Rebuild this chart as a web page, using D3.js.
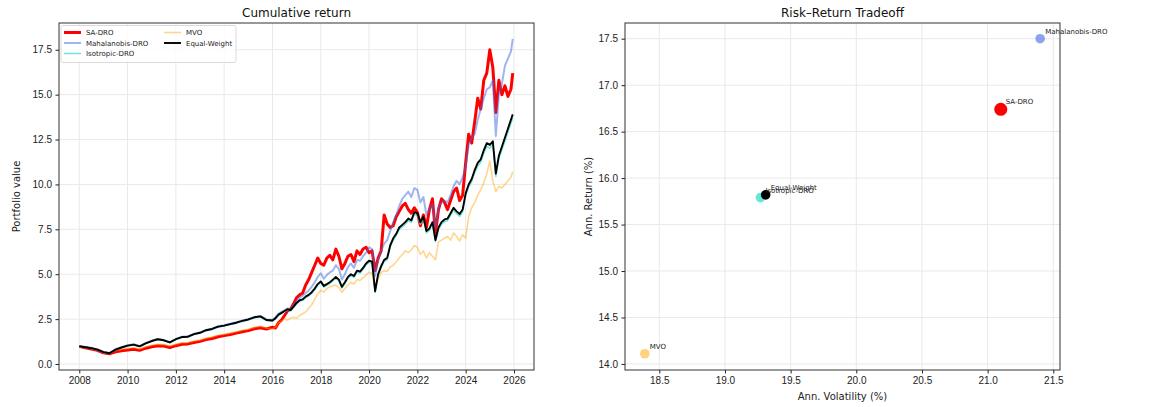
<!DOCTYPE html>
<meta charset="utf-8">
<style>
body { margin: 0; background: #fff; }
svg { font-family: 'DejaVu Sans', sans-serif; }
.grid line { stroke: #e9e9e9; stroke-width: 1; }
.axis text { font-size: 10px; fill: #222; }
.axis line { stroke: #222; }
.axis path { display: none; }
.frame { fill: none; stroke: #333; stroke-width: 1; }
.title { font-size: 12px; fill: #111; text-anchor: middle; }
.label { font-size: 10px; fill: #222; text-anchor: middle; }
.legend text, .pt-label { font-size: 7px; fill: #222; }
</style>
<body>
<svg id="chart" width="1152" height="407"></svg>
<script src="https://d3js.org/d3.v7.min.js"></script>
<script>
// decimal years: quarterly to 2016, then every 1.5 months
const dates = [
  2008, 2008.25, 2008.5, 2008.75,
  2009, 2009.25, 2009.5, 2009.75,
  2010, 2010.25, 2010.5, 2010.75,
  2011, 2011.25, 2011.5, 2011.75,
  2012, 2012.25, 2012.5, 2012.75,
  2013, 2013.25, 2013.5, 2013.75,
  2014, 2014.25, 2014.5, 2014.75,
  2015, 2015.25, 2015.5, 2015.75,
  2016,
  2016.125, 2016.25, 2016.375, 2016.5, 2016.625, 2016.75, 2016.875, 2017,
  2017.125, 2017.25, 2017.375, 2017.5, 2017.625, 2017.75, 2017.875, 2018,
  2018.125, 2018.25, 2018.375, 2018.5, 2018.625, 2018.75, 2018.875, 2019,
  2019.125, 2019.25, 2019.375, 2019.5, 2019.625, 2019.75, 2019.875, 2020,
  2020.125, 2020.25, 2020.375, 2020.5, 2020.625, 2020.75, 2020.875, 2021,
  2021.125, 2021.25, 2021.375, 2021.5, 2021.625, 2021.75, 2021.875, 2022,
  2022.125, 2022.25, 2022.375, 2022.5, 2022.625, 2022.75, 2022.875, 2023,
  2023.125, 2023.25, 2023.375, 2023.5, 2023.625, 2023.75, 2023.875, 2024,
  2024.125, 2024.25, 2024.375, 2024.5, 2024.625, 2024.75, 2024.875, 2025,
  2025.125, 2025.25, 2025.375, 2025.5, 2025.625, 2025.75, 2025.875, 2025.95
];

const saDro = [
  0.98, 0.90, 0.84, 0.76,
  0.62, 0.57, 0.68, 0.74,
  0.78, 0.82, 0.76, 0.88,
  0.96, 1.02, 1.00, 0.92,
  1.02, 1.10, 1.12, 1.20,
  1.26, 1.36, 1.42, 1.52,
  1.58, 1.64, 1.72, 1.80,
  1.86, 1.96, 2.02, 1.95,
  2.05,
  2.00, 2.30, 2.45, 2.70, 2.95, 3.05, 3.35, 3.70,
  3.85, 3.95, 4.40, 4.70, 5.10, 5.50, 5.90, 5.60,
  5.50, 5.90, 6.05, 5.80, 6.40, 6.00, 5.30, 5.60,
  6.00, 6.10, 5.70, 6.30, 6.10, 6.40, 6.50, 6.20,
  6.30, 5.20, 5.90, 6.30, 8.30, 7.80, 7.60, 7.70,
  8.20, 8.50, 8.80, 8.95, 8.60, 8.40, 8.70, 8.45,
  7.70, 8.30, 7.60, 8.60, 9.20, 7.30, 8.60, 9.20,
  9.00, 8.60, 9.10, 9.60, 9.80, 9.10, 9.40, 11.20,
  12.80, 12.30, 13.50, 14.80, 14.20, 15.80, 16.20, 17.50,
  16.50, 14.00, 15.80, 15.00, 15.50, 14.90, 15.30, 16.20
];

const mahalanobisDro = [
  1.00, 0.95, 0.90, 0.82,
  0.68, 0.62, 0.82, 0.94,
  1.04, 1.10, 1.00, 1.17,
  1.30, 1.40, 1.34, 1.22,
  1.40, 1.52, 1.54, 1.68,
  1.76, 1.90, 1.97, 2.10,
  2.16, 2.24, 2.32, 2.42,
  2.50, 2.62, 2.68, 2.48,
  2.46,
  2.60, 2.80, 2.90, 3.00, 3.10, 3.05, 3.30, 3.50,
  3.70, 3.80, 3.95, 4.10, 4.30, 4.55, 4.85, 5.05,
  4.75, 4.95, 5.10, 5.20, 5.50, 5.30, 4.70, 5.00,
  5.40, 5.60, 5.35, 5.80, 5.75, 6.00, 6.20, 6.50,
  6.40, 4.90, 5.80, 6.30, 6.70, 6.90, 7.40, 7.90,
  8.30, 8.80, 9.20, 9.40, 9.60, 9.30, 9.80, 9.70,
  9.00, 9.30, 8.30, 8.60, 8.90, 7.60, 8.70, 9.00,
  9.10, 9.00, 9.40, 9.90, 10.20, 10.00, 10.40, 11.00,
  12.20, 12.60, 12.80, 13.60, 14.20, 14.80, 15.30, 15.40,
  15.80, 12.70, 15.00, 15.60, 16.60, 17.00, 17.40, 18.10
];

const isotropicDro = [
  0.96, 0.91, 0.86, 0.78,
  0.64, 0.58, 0.78, 0.90,
  1.00, 1.06, 0.96, 1.13,
  1.26, 1.36, 1.30, 1.18,
  1.36, 1.48, 1.50, 1.64,
  1.72, 1.85, 1.92, 2.05,
  2.11, 2.19, 2.27, 2.37,
  2.45, 2.57, 2.62, 2.42,
  2.39,
  2.51, 2.71, 2.81, 2.91, 3.00, 2.95, 3.15, 3.35,
  3.49, 3.54, 3.69, 3.79, 3.93, 4.13, 4.38, 4.53,
  4.28, 4.38, 4.48, 4.62, 4.77, 4.62, 4.22, 4.47,
  4.77, 4.92, 4.82, 5.11, 5.06, 5.26, 5.51, 5.66,
  5.61, 3.98, 4.91, 5.36, 5.70, 5.80, 6.50, 6.89,
  7.14, 7.49, 7.63, 7.78, 7.98, 7.88, 8.32, 8.27,
  7.78, 8.08, 7.29, 7.44, 7.78, 6.80, 7.49, 7.78,
  7.93, 7.98, 8.27, 8.57, 8.37, 8.22, 8.47, 9.36,
  9.85, 10.15, 10.64, 11.03, 11.23, 11.72, 12.12, 12.02,
  12.22, 10.44, 11.43, 11.92, 12.41, 12.90, 13.40, 13.70
];

const mvo = [
  0.97, 0.91, 0.86, 0.79,
  0.66, 0.62, 0.75, 0.82,
  0.87, 0.92, 0.84, 0.96,
  1.04, 1.10, 1.08, 1.00,
  1.10, 1.18, 1.20, 1.28,
  1.34, 1.44, 1.50, 1.60,
  1.66, 1.72, 1.80, 1.88,
  1.94, 2.04, 2.10, 2.00,
  1.95,
  2.05, 2.30, 2.40, 2.50, 2.45, 2.55, 2.60, 2.55,
  2.70, 2.80, 2.90, 3.10, 3.30, 3.60, 3.90, 4.10,
  4.00, 4.20, 4.30, 4.35, 4.40, 4.25, 4.00, 4.20,
  4.40, 4.55, 4.45, 4.70, 4.65, 4.80, 4.95, 5.10,
  5.05, 4.20, 4.75, 5.10, 5.20, 5.15, 5.40, 5.50,
  5.70, 5.90, 6.10, 6.30, 6.20, 6.35, 6.60, 6.50,
  6.10, 6.30, 5.90, 6.20, 6.00, 5.80, 6.80, 6.90,
  7.00, 7.10, 6.90, 7.30, 7.10, 6.85, 7.20, 7.00,
  8.20, 8.70, 9.00, 9.40, 9.70, 10.10, 10.60, 11.30,
  10.20, 9.60, 9.90, 9.80, 10.00, 10.20, 10.40, 10.70
];

const equalWeight = [
  0.98, 0.93, 0.88, 0.80,
  0.66, 0.60, 0.80, 0.92,
  1.02, 1.08, 0.98, 1.15,
  1.28, 1.38, 1.32, 1.20,
  1.38, 1.50, 1.52, 1.66,
  1.74, 1.88, 1.95, 2.08,
  2.14, 2.22, 2.30, 2.40,
  2.48, 2.60, 2.65, 2.45,
  2.42,
  2.55, 2.75, 2.85, 2.95, 3.05, 3.00, 3.20, 3.40,
  3.55, 3.60, 3.75, 3.85, 4.00, 4.20, 4.45, 4.60,
  4.35, 4.45, 4.55, 4.70, 4.85, 4.70, 4.30, 4.55,
  4.85, 5.00, 4.90, 5.20, 5.15, 5.35, 5.60, 5.75,
  5.70, 4.05, 5.00, 5.45, 5.80, 5.90, 6.60, 7.00,
  7.25, 7.60, 7.75, 7.90, 8.10, 8.00, 8.45, 8.40,
  7.90, 8.20, 7.40, 7.55, 7.90, 6.90, 7.60, 7.90,
  8.05, 8.10, 8.40, 8.70, 8.50, 8.35, 8.60, 9.50,
  10.00, 10.30, 10.80, 11.20, 11.40, 11.90, 12.30, 12.20,
  12.40, 10.60, 11.60, 12.10, 12.60, 13.10, 13.60, 13.90
];

const names = ["SA-DRO", "Mahalanobis-DRO", "Isotropic-DRO", "MVO", "Equal-Weight"];
const annVol = [21.10, 21.40, 19.27, 18.39, 19.31];
const annRet = [16.74, 17.50, 15.79, 14.11, 15.82];

const yearTicks = [2008, 2010, 2012, 2014, 2016, 2018, 2020, 2022, 2024, 2026];
const valueTicks = [0, 2.5, 5, 7.5, 10, 12.5, 15, 17.5];
const volTicks = [18.5, 19.0, 19.5, 20.0, 20.5, 21.0, 21.5];
const retTicks = [14.0, 14.5, 15.0, 15.5, 16.0, 16.5, 17.0, 17.5];

const series = [saDro, mahalanobisDro, isotropicDro, mvo, equalWeight];
const colors = ["#ff0000", "#4169e1", "#40e0d0", "#ffa500", "#000000"];
const opac = [1, 0.5, 0.8, 0.45, 1];
const dotOpac = [1, 0.6, 0.8, 0.5, 1];
const widths = [3.0, 2.0, 1.4, 1.6, 1.9];
const dotR = [6.5, 4.8, 4.8, 4.8, 4.8];

const svg = d3.select("#chart");

// ---------- left: cumulative return ----------
const L = {left: 59, right: 534, top: 23, bottom: 370};
const x1 = d3.scaleLinear().domain([2007.16, 2026.83]).range([L.left, L.right]);
const y1 = d3.scaleLinear().domain([-0.334, 18.99]).range([L.bottom, L.top]);

const g1 = svg.append("g");
g1.append("g").attr("class", "grid").selectAll("line").data(yearTicks).join("line")
  .attr("x1", d => x1(d)).attr("x2", d => x1(d)).attr("y1", L.top).attr("y2", L.bottom);
g1.append("g").attr("class", "grid").selectAll("line").data(valueTicks).join("line")
  .attr("y1", d => y1(d)).attr("y2", d => y1(d)).attr("x1", L.left).attr("x2", L.right);

svg.append("clipPath").attr("id", "clipL").append("rect")
  .attr("x", L.left).attr("y", L.top).attr("width", L.right - L.left).attr("height", L.bottom - L.top);

const line = d3.line().x((d, i) => x1(dates[i])).y(d => y1(d));
const linesG = g1.append("g").attr("clip-path", "url(#clipL)");
series.forEach((s, i) => {
  linesG.append("path").attr("d", line(s))
    .attr("fill", "none").attr("stroke", colors[i]).attr("stroke-opacity", opac[i])
    .attr("stroke-width", widths[i]).attr("stroke-linejoin", "round");
});

g1.append("g").attr("class", "axis").attr("transform", `translate(0,${L.bottom})`)
  .call(d3.axisBottom(x1).tickValues(yearTicks).tickFormat(d3.format("d")).tickSize(3.5).tickPadding(3.5));
g1.append("g").attr("class", "axis").attr("transform", `translate(${L.left},0)`)
  .call(d3.axisLeft(y1).tickValues(valueTicks).tickFormat(d3.format(".1f")).tickSize(3.5).tickPadding(3.5));
g1.append("rect").attr("class", "frame").attr("x", L.left).attr("y", L.top)
  .attr("width", L.right - L.left).attr("height", L.bottom - L.top);

g1.append("text").attr("class", "title").attr("x", (L.left + L.right) / 2).attr("y", 17).text("Cumulative return");
g1.append("text").attr("class", "label")
  .attr("transform", `translate(20,${(L.top + L.bottom) / 2}) rotate(-90)`).text("Portfolio value");

// legend, two columns
const lg = g1.append("g").attr("class", "legend");
lg.append("rect").attr("x", 61).attr("y", 25.5).attr("width", 175).attr("height", 37)
  .attr("rx", 2).attr("fill", "#fff").attr("fill-opacity", 0.8).attr("stroke", "#d0d0d0").attr("stroke-width", 0.8);
names.forEach((n, i) => {
  const col = i < 3 ? 0 : 1, row = i < 3 ? i : i - 3;
  const lx = col === 0 ? 64 : 164, ly = 32.5 + row * 10.5;
  lg.append("line").attr("x1", lx).attr("x2", lx + 17).attr("y1", ly).attr("y2", ly)
    .attr("stroke", colors[i]).attr("stroke-opacity", opac[i]).attr("stroke-width", widths[i]);
  lg.append("text").attr("x", lx + 22).attr("y", ly + 2.5).text(n);
});

// ---------- right: risk-return scatter ----------
const R = {left: 625, right: 1060, top: 23, bottom: 370};
const x2 = d3.scaleLinear().domain([18.239, 21.551]).range([R.left, R.right]);
const y2 = d3.scaleLinear().domain([13.935, 17.669]).range([R.bottom, R.top]);

const g2 = svg.append("g");
g2.append("g").attr("class", "grid").selectAll("line").data(volTicks).join("line")
  .attr("x1", d => x2(d)).attr("x2", d => x2(d)).attr("y1", R.top).attr("y2", R.bottom);
g2.append("g").attr("class", "grid").selectAll("line").data(retTicks).join("line")
  .attr("y1", d => y2(d)).attr("y2", d => y2(d)).attr("x1", R.left).attr("x2", R.right);

g2.append("g").selectAll("circle").data(names).join("circle")
  .attr("cx", (d, i) => x2(annVol[i])).attr("cy", (d, i) => y2(annRet[i]))
  .attr("r", (d, i) => dotR[i])
  .attr("fill", (d, i) => colors[i]).attr("fill-opacity", (d, i) => dotOpac[i]);

g2.append("g").selectAll("text").data(names).join("text").attr("class", "pt-label")
  .attr("x", (d, i) => x2(annVol[i]) + 5).attr("y", (d, i) => y2(annRet[i]) - 5)
  .text(d => d);

g2.append("g").attr("class", "axis").attr("transform", `translate(0,${R.bottom})`)
  .call(d3.axisBottom(x2).tickValues(volTicks).tickFormat(d3.format(".1f")).tickSize(3.5).tickPadding(3.5));
g2.append("g").attr("class", "axis").attr("transform", `translate(${R.left},0)`)
  .call(d3.axisLeft(y2).tickValues(retTicks).tickFormat(d3.format(".1f")).tickSize(3.5).tickPadding(3.5));
g2.append("rect").attr("class", "frame").attr("x", R.left).attr("y", R.top)
  .attr("width", R.right - R.left).attr("height", R.bottom - R.top);

g2.append("text").attr("class", "title").attr("x", (R.left + R.right) / 2).attr("y", 17).text("Risk–Return Tradeoff");
g2.append("text").attr("class", "label").attr("x", (R.left + R.right) / 2).attr("y", 400).text("Ann. Volatility (%)");
g2.append("text").attr("class", "label")
  .attr("transform", `translate(592,${(R.top + R.bottom) / 2}) rotate(-90)`).text("Ann. Return (%)");
</script>
</body>
